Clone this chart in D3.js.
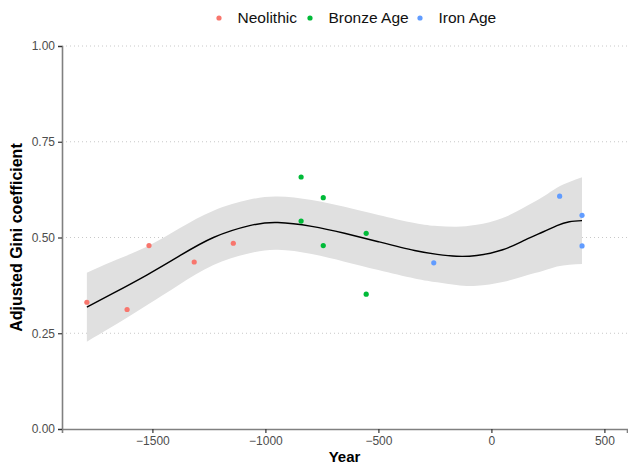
<!DOCTYPE html>
<html>
<head>
<meta charset="utf-8">
<script src="https://cdn.jsdelivr.net/npm/d3@7"></script>
<style>
  body { margin: 0; background: #fff; }
  text { font-family: "Liberation Sans", Arial, Helvetica, sans-serif; }
</style>
</head>
<body>
<div id="chart"></div>
<script>
// period groups
var periods = ["Neolithic", "Bronze Age", "Iron Age"];
var periodColors = ["#F8766D", "#00BA38", "#619CFF"];

// observed points
var neolithicYears = [-1790, -1612, -1515, -1315, -1142];
var neolithicGini = [0.331, 0.312, 0.479, 0.436, 0.485];
var bronzeYears = [-842, -842, -744, -744, -554, -554];
var bronzeGini = [0.658, 0.543, 0.604, 0.479, 0.511, 0.352];
var ironYears = [-255, 302, 401, 401];
var ironGini = [0.434, 0.608, 0.558, 0.478];

// smoother (fit and 95% band)
var smoothYears = [-1790, -1675, -1525, -1380, -1230, -1070, -945, -795, -650, -500, -340, -240, -155, -65, 50, 150, 230, 290, 345, 401];
var smoothFit   = [0.318, 0.354, 0.402, 0.452, 0.500, 0.531, 0.539, 0.529, 0.511, 0.489, 0.466, 0.456, 0.451, 0.453, 0.468, 0.494, 0.515, 0.531, 0.541, 0.544];
var smoothUpper = [0.408, 0.438, 0.476, 0.524, 0.570, 0.599, 0.607, 0.598, 0.580, 0.559, 0.538, 0.530, 0.528, 0.533, 0.551, 0.580, 0.607, 0.630, 0.645, 0.657];
var smoothLower = [0.228, 0.268, 0.323, 0.377, 0.428, 0.459, 0.468, 0.457, 0.437, 0.415, 0.393, 0.383, 0.376, 0.374, 0.384, 0.400, 0.413, 0.424, 0.429, 0.431];

var xTicks = [-1500, -1000, -500, 0, 500];
var yTicks = [0, 0.25, 0.5, 0.75, 1];

var svgWidth = 628;
var svgHeight = 464;
var margin = { top: 46, right: 1, bottom: 35, left: 62 };
var width = svgWidth - margin.left - margin.right;
var height = svgHeight - margin.top - margin.bottom;

var svg = d3.select("#chart")
  .append("svg")
  .attr("width", svgWidth)
  .attr("height", svgHeight);

var chartGroup = svg.append("g")
  .attr("transform", `translate(${margin.left},${margin.top})`);

var xScale = d3.scaleLinear().domain([-1900, 600]).range([0, width]);
var yScale = d3.scaleLinear().domain([0, 1]).range([height, 0]);
var color = d3.scaleOrdinal().domain(periods).range(periodColors);

// build point table
var points = [];
[neolithicYears, bronzeYears, ironYears].forEach(function(years, i) {
  var vals = [neolithicGini, bronzeGini, ironGini][i];
  years.forEach(function(y, j) {
    points.push({ year: y, gini: vals[j], period: periods[i] });
  });
});
var smooth = smoothYears.map(function(y, i) {
  return { year: y, fit: smoothFit[i], lo: smoothLower[i], hi: smoothUpper[i] };
});

// dotted grid
chartGroup.selectAll(".grid").data(yTicks.filter(d => d > 0))
  .enter().append("line")
  .attr("x1", 0).attr("x2", width)
  .attr("y1", d => yScale(d)).attr("y2", d => yScale(d))
  .attr("stroke", "#c8c8c8")
  .attr("stroke-width", 1)
  .attr("stroke-dasharray", "1,3");

// band
var area = d3.area()
  .x(d => xScale(d.year))
  .y0(d => yScale(d.lo))
  .y1(d => yScale(d.hi))
  .curve(d3.curveNatural);
chartGroup.append("path").datum(smooth)
  .attr("d", area)
  .attr("fill", "#e0e0e0");

var line = d3.line()
  .x(d => xScale(d.year))
  .y(d => yScale(d.fit))
  .curve(d3.curveNatural);
chartGroup.append("path").datum(smooth)
  .attr("d", line)
  .attr("fill", "none")
  .attr("stroke", "#000")
  .attr("stroke-width", 1.4);

chartGroup.selectAll(".pt").data(points)
  .enter().append("circle")
  .attr("cx", d => xScale(d.year))
  .attr("cy", d => yScale(d.gini))
  .attr("r", 2.6)
  .attr("fill", d => color(d.period));

// axes
var bottomAxis = d3.axisBottom(xScale).tickValues(xTicks).tickSize(4).tickPadding(3)
  .tickFormat(d => d < 0 ? "\u2212" + Math.abs(d) : d);
var leftAxis = d3.axisLeft(yScale).tickValues(yTicks).tickSize(4).tickPadding(3)
  .tickFormat(d3.format(".2f"));

var gx = chartGroup.append("g").attr("transform", `translate(0, ${height})`).call(bottomAxis);
var gy = chartGroup.append("g").call(leftAxis);
[gx, gy].forEach(function(g) {
  g.select(".domain").attr("stroke", "#808080").attr("stroke-width", 1.6);
  g.selectAll(".tick line").attr("stroke", "#333").attr("stroke-width", 1.2);
  g.selectAll(".tick text").attr("fill", "#4d4d4d").attr("font-size", "12px")
    .attr("font-family", "Liberation Sans, Arial, sans-serif");
});

chartGroup.append("text")
  .attr("x", width / 2)
  .attr("y", height + 33)
  .attr("text-anchor", "middle")
  .attr("font-size", "15px")
  .attr("font-weight", "bold")
  .attr("fill", "black")
  .text("Year");

chartGroup.append("text")
  .attr("transform", `translate(${-40}, ${height / 2}) rotate(-90)`)
  .attr("text-anchor", "middle")
  .attr("font-size", "16px")
  .attr("font-weight", "bold")
  .attr("fill", "black")
  .text("Adjusted Gini coefficient");

// legend
var legendX = [219, 310, 420];
var legend = svg.selectAll(".legend").data(periods)
  .enter().append("g")
  .attr("transform", (d, i) => `translate(${legendX[i]}, 18)`);
legend.append("circle").attr("r", 2.6).attr("fill", d => color(d));
legend.append("text")
  .attr("x", 18.5)
  .attr("dy", "0.35em")
  .attr("font-size", "15.5px")
  .attr("fill", "#111")
  .text(d => d);
</script>
</body>
</html>
